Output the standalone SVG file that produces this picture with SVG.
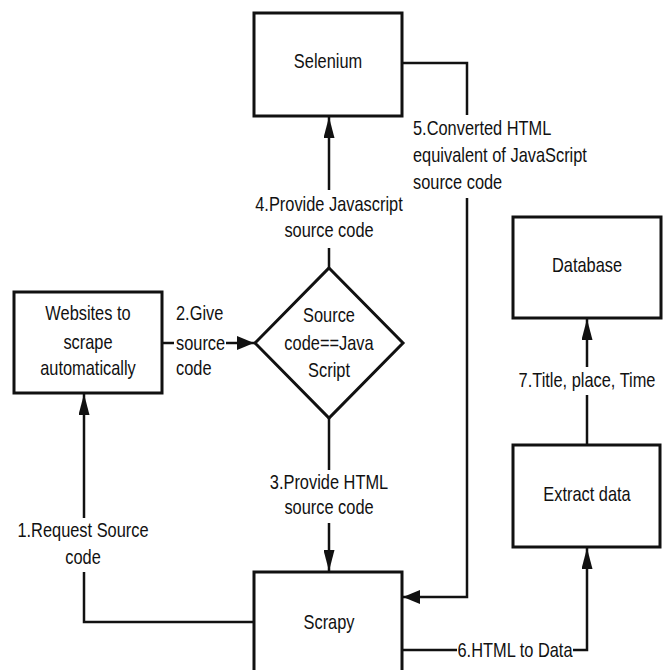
<svg xmlns="http://www.w3.org/2000/svg" width="665" height="670" viewBox="0 0 665 670">
<defs>
<style>
.box{fill:#fff;stroke:#111;stroke-width:3}
.ln{fill:none;stroke:#111;stroke-width:2.5}
text{font-family:"Liberation Sans",Arial,sans-serif;font-size:20px;fill:#111}
.c{text-anchor:middle}
</style>
<marker id="av" viewBox="0 0 21 11" refX="21" refY="5.5" markerWidth="21" markerHeight="11" markerUnits="userSpaceOnUse" orient="auto">
<path d="M0,0 L21,5.5 L0,11 z" fill="#111"/>
</marker>
<marker id="ahz" viewBox="0 0 17 14" refX="17" refY="7" markerWidth="17" markerHeight="14" markerUnits="userSpaceOnUse" orient="auto">
<path d="M0,0 L17,7 L0,14 z" fill="#111"/>
</marker>
</defs>
<rect width="665" height="670" fill="#fff"/>
<g id="connectors">
<path class="ln" d="M162,343 H174"/>
<path class="ln" d="M226,343 H254" marker-end="url(#ahz)"/>
<path class="ln" d="M329,268 V248"/>
<path class="ln" d="M329,190 V117" marker-end="url(#av)"/>
<path class="ln" d="M402,63 H467 V115"/>
<path class="ln" d="M467,198 V597 H403" marker-end="url(#ahz)"/>
<path class="ln" d="M329,418 V470"/>
<path class="ln" d="M329,523 V571" marker-end="url(#av)"/>
<path class="ln" d="M254,622 H84 V572"/>
<path class="ln" d="M84,518 V394" marker-end="url(#av)"/>
<path class="ln" d="M402,650 H457"/>
<path class="ln" d="M573,650 H587 V548" marker-end="url(#av)"/>
<path class="ln" d="M587,445 V395"/>
<path class="ln" d="M587,367 V319" marker-end="url(#av)"/>
<text transform="translate(176,320) scale(0.82,1)">2.Give</text>
<text transform="translate(176,350) scale(0.82,1)">source</text>
<text transform="translate(176,375) scale(0.82,1)">code</text>
<text class="c" transform="translate(329,211) scale(0.82,1)">4.Provide Javascript</text>
<text class="c" transform="translate(329,237) scale(0.82,1)">source code</text>
<text transform="translate(413,135) scale(0.82,1)">5.Converted HTML</text>
<text transform="translate(413,162) scale(0.82,1)">equivalent of JavaScript</text>
<text transform="translate(413,189) scale(0.82,1)">source code</text>
<text class="c" transform="translate(329,489) scale(0.82,1)">3.Provide HTML</text>
<text class="c" transform="translate(329,514) scale(0.82,1)">source code</text>
<text class="c" transform="translate(83,537) scale(0.82,1)">1.Request Source</text>
<text class="c" transform="translate(83,564) scale(0.82,1)">code</text>
<text class="c" transform="translate(515,657) scale(0.82,1)">6.HTML to Data</text>
<text class="c" transform="translate(587,387) scale(0.82,1)">7.Title, place, Time</text>
</g>
<g id="selenium">
<rect class="box" x="254" y="13" width="148" height="103"/>
<text class="c" transform="translate(328,68) scale(0.82,1)">Selenium</text>
</g>
<g id="websites">
<rect class="box" x="14" y="292" width="148" height="101"/>
<text class="c" transform="translate(88,320) scale(0.82,1)">Websites to</text>
<text class="c" transform="translate(88,349) scale(0.82,1)">scrape</text>
<text class="c" transform="translate(88,375) scale(0.82,1)">automatically</text>
</g>
<g id="decision">
<polygon class="box" points="329,268 403,343 329,418 255,343"/>
<text class="c" transform="translate(329,322) scale(0.82,1)">Source</text>
<text class="c" transform="translate(329,350) scale(0.82,1)">code==Java</text>
<text class="c" transform="translate(329,377) scale(0.82,1)">Script</text>
</g>
<g id="scrapy">
<rect class="box" x="254" y="572" width="148" height="110"/>
<text class="c" transform="translate(329,629) scale(0.82,1)">Scrapy</text>
</g>
<g id="extract">
<rect class="box" x="513" y="445" width="147" height="102"/>
<text class="c" transform="translate(587,501) scale(0.82,1)">Extract data</text>
</g>
<g id="database">
<rect class="box" x="513" y="217" width="148" height="101"/>
<text class="c" transform="translate(587,272) scale(0.82,1)">Database</text>
</g>
</svg>
